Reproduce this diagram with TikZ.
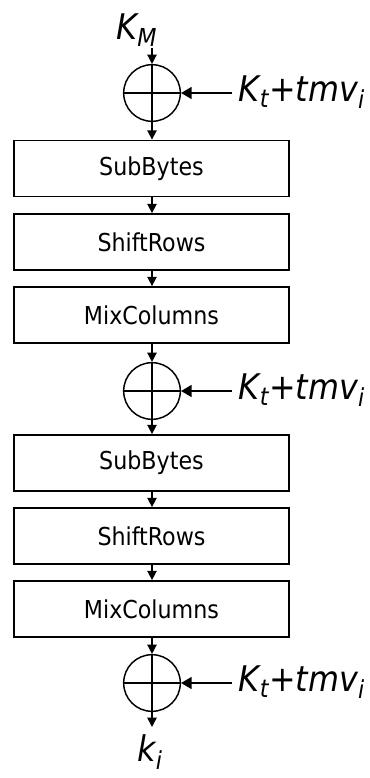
\documentclass[tikz,border=0pt]{standalone}
\usepackage{fontspec}
\setmainfont{DejaVu Sans Condensed}
\usetikzlibrary{arrows.meta}
\tikzset{
  stage/.style={draw,line width=1.3pt,minimum width=206pt,minimum height=42pt,inner sep=0pt,font=\fontsize{18.5}{22}\selectfont},
  xorop/.style={draw,circle,line width=1.1pt,minimum size=42.5pt,inner sep=0pt},
  keylbl/.style={inner ysep=1pt,inner xsep=5pt,font=\fontsize{26.5}{30}\selectfont\itshape},
  flow/.style={line width=1.1pt,-{Triangle[length=7pt,width=7pt]}},
  feed/.style={line width=1.3pt,-{Triangle[length=8pt,width=9pt]}}
}
\begin{document}
\begin{tikzpicture}[x=0.75pt,y=-0.75pt]
\useasboundingbox (0,0) rectangle (370,778);
\node[keylbl](km)at(137,30){K\textsubscript{M}};
\node[xorop](x1)at(152,93){};
\node[stage](sb1)at(151.5,168.5){SubBytes};
\node[stage](sr1)at(151.5,242){ShiftRows};
\node[stage](mc1)at(151.5,315){MixColumns};
\node[xorop](x2)at(152,391){};
\node[stage](sb2)at(151.5,463){SubBytes};
\node[stage](sr2)at(151.5,536){ShiftRows};
\node[stage](mc2)at(151.5,609){MixColumns};
\node[xorop](x3)at(152,683){};
\node[keylbl](ki)at(150,752){k\textsubscript{i}};
\coordinate(out)at(152,727);
\node[keylbl,anchor=west](t1)at(232,92){K\textsubscript{t}+tmv\textsubscript{i}};
\node[keylbl,anchor=west](t2)at(232,390){K\textsubscript{t}+tmv\textsubscript{i}};
\node[keylbl,anchor=west](t3)at(232,682){K\textsubscript{t}+tmv\textsubscript{i}};
% crosses inside the xor circles
\foreach \n in {x1,x2,x3}
  \draw[line width=1.1pt](\n.north)--(\n.south)(\n.west)--(\n.east);
% data path
\draw[flow](km.south -| x1)--(x1.north);
\draw[flow](x1.south)--(x1 |- sb1.north);
\draw[flow](sb1.south -| x1)--(x1 |- sr1.north);
\draw[flow](sr1.south -| x1)--(x1 |- mc1.north);
\draw[flow](mc1.south -| x2)--(x2.north);
\draw[flow](x2.south)--(x2 |- sb2.north);
\draw[flow](sb2.south -| x2)--(x2 |- sr2.north);
\draw[flow](sr2.south -| x2)--(x2 |- mc2.north);
\draw[flow](mc2.south -| x3)--(x3.north);
\draw[flow](x3.south)--(out);
% round keys
\draw[feed](t1.west |- x1)--(x1.east);
\draw[feed](t2.west |- x2)--(x2.east);
\draw[feed](t3.west |- x3)--(x3.east);
\end{tikzpicture}
\end{document}
